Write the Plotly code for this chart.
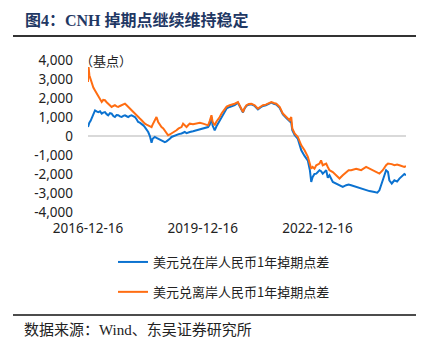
import plotly.graph_objects as go

dates = [
    "2016-12-16", "2016-12-22", "2016-12-29", "2017-01-10", "2017-01-20", "2017-02-05", "2017-02-21",
    "2017-03-08", "2017-03-24", "2017-04-10", "2017-04-26", "2017-05-10", "2017-05-27", "2017-06-12",
    "2017-06-27", "2017-07-14", "2017-07-30", "2017-08-15", "2017-08-30", "2017-09-15", "2017-10-01",
    "2017-10-17", "2017-11-02", "2017-11-18", "2017-12-04", "2017-12-20", "2018-01-04", "2018-01-20",
    "2018-02-05", "2018-02-20", "2018-03-09", "2018-03-25", "2018-04-09", "2018-04-25", "2018-05-12",
    "2018-05-28", "2018-06-12", "2018-06-28", "2018-07-14", "2018-07-30", "2018-08-15", "2018-08-25",
    "2018-09-15", "2018-10-01", "2018-10-17", "2018-11-01", "2018-11-18", "2018-12-05", "2018-12-20",
    "2019-01-05", "2019-01-20", "2019-02-05", "2019-02-22", "2019-03-15", "2019-04-10", "2019-05-01",
    "2019-05-28", "2019-06-12", "2019-06-28", "2019-07-15", "2019-08-01", "2019-08-15", "2019-09-15",
    "2019-10-18", "2019-11-20", "2019-12-20", "2020-01-15", "2020-02-06", "2020-02-22", "2020-03-09",
    "2020-03-20", "2020-04-09", "2020-04-25", "2020-05-10", "2020-05-27", "2020-06-15", "2020-07-14",
    "2020-08-01", "2020-08-30", "2020-09-20", "2020-10-17", "2020-11-17", "2020-12-04", "2020-12-20",
    "2021-01-04", "2021-01-20", "2021-02-06", "2021-03-01", "2021-03-25", "2021-04-26", "2021-05-27",
    "2021-06-20", "2021-07-14", "2021-08-10", "2021-08-30", "2021-10-02", "2021-10-25", "2021-11-18",
    "2021-12-20", "2022-01-20", "2022-02-22", "2022-03-25", "2022-04-10", "2022-04-20", "2022-05-12",
    "2022-06-12", "2022-07-15", "2022-08-15", "2022-09-16", "2022-10-05", "2022-10-18", "2022-11-01",
    "2022-11-18", "2022-12-05", "2023-01-05", "2023-01-20", "2023-02-05", "2023-02-20", "2023-03-10",
    "2023-03-25", "2023-04-10", "2023-05-12", "2023-06-13", "2023-07-15", "2023-08-15", "2023-09-17",
    "2023-10-10", "2023-11-03", "2023-12-21", "2024-01-15", "2024-02-07", "2024-03-25", "2024-04-26",
    "2024-06-13", "2024-07-10", "2024-07-30", "2024-08-31", "2024-09-20", "2024-10-02", "2024-10-20",
    "2024-11-02", "2024-11-25", "2024-12-20", "2025-01-15", "2025-02-06", "2025-03-25", "2025-04-10",
]

onshore = [
    470, 600, 700, 800, 910, 1150, 1350,
    1300, 1260, 1300, 1180, 1230, 1260, 1150,
    1090, 1200, 1180, 1050, 1000, 1100, 1090,
    1030, 1000, 1060, 1090, 1040, 1000, 1060,
    1090, 1050, 1000, 880, 740, 700, 650,
    560, 470, 350, 210, 0, -350, -150,
    -50, -100, -140, -200, -230, -260, -320,
    -280, -230, -150, -50, 0, 40, 100,
    130, 180, 210, 150, 200, 210, 250,
    300, 350, 390, 420, 470, 600, 1000,
    550, 300, 500, 650, 830, 1050, 1350,
    1450, 1530, 1560, 1620, 1750, 1580, 1450,
    1240, 1450, 1580, 1650, 1670, 1580, 1400,
    1500, 1580, 1620, 1670, 1760, 1700, 1660,
    1480, 1130, 950, 780, 700, 300, 50,
    -150, -750, -1050, -1300, -1800, -2420, -2150,
    -2000, -1980, -1800, -1850, -1980, -1900, -1800,
    -2200, -2070, -2420, -2500, -2590, -2680, -2590,
    -2550, -2590, -2680, -2720, -2770, -2860, -2900,
    -2950, -2980, -2860, -2330, -1900, -1800, -1890,
    -2330, -2500, -2330, -2400, -2240, -2000, -2070,
]

offshore = [
    2840, 3630, 3200, 3000, 2760, 2550, 2400,
    2250, 2050, 1950, 1790, 1900, 1880, 1780,
    1700, 1650, 1530, 1580, 1620, 1560, 1530,
    1580, 1620, 1680, 1700, 1620, 1530, 1450,
    1350, 1250, 1180, 1080, 1000, 920, 830,
    720, 650, 600, 560, 520, 470, 600,
    830, 1000, 740, 600, 470, 400, 300,
    150, 40, 80, 130, 200, 300, 400,
    470, 650, 550, 470, 580, 650, 620,
    650, 700, 650, 600, 560, 800, 1090,
    750, 560, 750, 850, 1000, 1200, 1440,
    1550, 1620, 1650, 1700, 1790, 1620, 1480,
    1260, 1480, 1620, 1680, 1700, 1620, 1440,
    1540, 1620, 1650, 1700, 1790, 1740, 1700,
    1530, 1180, 1000, 830, 1000, 400, 130,
    -50, -490, -750, -1100, -1540, -1720, -1630,
    -1720, -1540, -1450, -1280, -1540, -1500, -1450,
    -1630, -1800, -1900, -2070, -2240, -2070, -1890,
    -1800, -1800, -1720, -1760, -1800, -1630, -1720,
    -1890, -1950, -1980, -1800, -1600, -1540, -1450,
    -1450, -1480, -1540, -1500, -1540, -1630, -1580,
]

series_names = ["美元兑在岸人民币1年掉期点差", "美元兑离岸人民币1年掉期点差"]
series_colors = ["#0B72D0", "#FF6D12"]

y_tickvals = [4000, 3000, 2000, 1000, 0, -1000, -2000, -3000, -4000]
y_ticktext = ["4,000", "3,000", "2,000", "1,000", "0", "-1,000", "-2,000", "-3,000", "-4,000"]
x_tickvals = ["2016-12-16", "2019-12-16", "2022-12-16"]
x_ticktext = ["2016-12-16", "2019-12-16", "2022-12-16"]

title_text = "图4：CNH 掉期点继续维持稳定"
unit_text = "（基点）"
source_text = "数据来源：Wind、东吴证券研究所"

W, H = 432, 357
L, R, T, B = 88, 406, 60, 212
pw, ph = R - L, B - T


def px(x):
    return (x - L) / pw


def py(y):
    return (B - y) / ph


fig = go.Figure()
for i, (vals, name, col) in enumerate(zip([onshore, offshore], series_names, series_colors)):
    fig.add_trace(go.Scatter(
        x=dates, y=vals, mode="lines", name=name,
        line=dict(color=col, width=2),
        legendgroup=f"g{i}",
    ))

sans = "Noto Sans CJK SC, Noto Sans, sans-serif"
fig.update_layout(
    width=W, height=H,
    margin=dict(l=L, r=W - R, t=T, b=H - B, autoexpand=False),
    paper_bgcolor="white", plot_bgcolor="white",
    showlegend=True,
    legend=dict(
        x=px(113), y=py(247), xanchor="left", yanchor="top",
        font=dict(family=sans, size=13, color="#222"),
        tracegroupgap=10, bgcolor="rgba(0,0,0,0)",
    ),
    xaxis=dict(
        type="date", range=[dates[0], dates[-1]],
        tickvals=x_tickvals, ticktext=x_ticktext,
        showgrid=False, zeroline=False, showline=False, ticks="",
        tickfont=dict(family="Noto Sans, sans-serif", size=13.5, color="#222"),
        ticklabelstandoff=6,
    ),
    yaxis=dict(
        range=[-4000, 4000], tickvals=y_tickvals, ticktext=y_ticktext,
        showgrid=False, zeroline=True, zerolinecolor="#D9D9D9", zerolinewidth=1.5,
        showline=False, ticks="",
        tickfont=dict(family="Noto Sans, sans-serif", size=13.5, color="#222"),
        ticklabelstandoff=14,
    ),
    annotations=[
        dict(text=title_text, x=px(23), y=py(20), xref="paper", yref="paper",
             xanchor="left", yanchor="middle", showarrow=False,
             font=dict(family="Liberation Serif, Noto Sans CJK SC", size=16, color="#1F3864", weight="bold")),
        dict(text=unit_text, x=px(78), y=py(60), xref="paper", yref="paper",
             xanchor="left", yanchor="middle", showarrow=False,
             font=dict(family=sans, size=13, color="#222")),
        dict(text=source_text, x=px(22), y=py(330), xref="paper", yref="paper",
             xanchor="left", yanchor="middle", showarrow=False,
             font=dict(family="Liberation Serif, Noto Sans CJK SC", size=15, color="#222")),
    ],
    shapes=[
        dict(type="line", xref="paper", yref="paper", x0=px(13), x1=px(416), y0=py(36), y1=py(36),
             line=dict(color="#333", width=2)),
        dict(type="line", xref="paper", yref="paper", x0=px(13), x1=px(416), y0=py(315), y1=py(315),
             line=dict(color="#111", width=1.5)),
    ],
)

fig.write_html("out.html", config={"displayModeBar": False},
               post_script="document.body.style.margin='0';")
